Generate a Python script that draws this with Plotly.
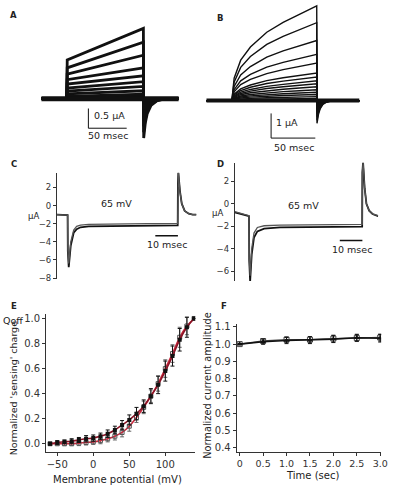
import plotly.graph_objects as go

W, H = 396, 500
FONT = "DejaVu Sans, Arial, sans-serif"
INK = "#111111"

# ---------------- Panel A (raw current traces, µA vs ms) ----------------
A_start = [0.98, 0.78, 0.62, 0.48, 0.37, 0.27, 0.19, 0.12, 0.06, 0.02]
A_end = [1.78, 1.43, 1.10, 0.78, 0.58, 0.43, 0.31, 0.20, 0.11, 0.04]
A_tail = [-1.0, -0.85, -0.70, -0.56, -0.45, -0.35, -0.26, -0.18, -0.10, -0.05]
A_tail_t = [100.4, 102.5, 105, 110, 118, 130, 146]
A_tail_shape = [1.0, 0.62, 0.38, 0.17, 0.05, 0.0, 0.0]

# ---------------- Panel B ----------------
B_end = [3.84, 3.16, 2.44, 1.88, 1.52, 1.12, 0.96, 0.80, 0.68, 0.56, 0.44, 0.34, 0.25, 0.16, 0.08]
B_shape_t = [0, 2.6, 10, 21, 39.5, 58, 76.5, 96]
B_shape = [0, 0.236, 0.427, 0.566, 0.722, 0.826, 0.913, 1.0]
B_tail = [-0.92, -0.80, -0.65, -0.52, -0.42, -0.33, -0.27, -0.21, -0.16, -0.12, -0.09, -0.06, -0.04, -0.02, -0.01]
B_tail_t = [96.3, 98, 100, 103, 107, 112, 120, 145]
B_tail_shape = [1.0, 0.6, 0.35, 0.17, 0.07, 0.02, 0.0, 0.0]

# ---------------- Panel C (65 mV) ----------------
C_t = [0, 4.7, 4.8, 5.2, 6.1, 7.4, 8.7, 10.4, 14, 25, 40, 53.4, 53.5, 53.7, 54.4, 55.2, 56.5, 58.3, 60, 61.7]
C_low = [-1.0, -1.05, -5.0, -6.8, -4.4, -3.0, -2.6, -2.4, -2.3, -2.25, -2.2, -2.2, 2.5, 3.6, 1.6, 0.2, -0.6, -0.9, -1.0, -1.0]
C_high = [-1.0, -1.05, -4.8, -6.4, -4.0, -2.7, -2.3, -2.15, -2.07, -2.02, -2.0, -2.0, 2.5, 3.6, 1.5, 0.2, -0.6, -0.9, -1.0, -1.0]
C_ticks = [-8, -6, -4, -2, 0, 2]

# ---------------- Panel D (65 mV) ----------------
D_t = [0, 3, 6.3, 6.4, 6.8, 7.5, 8.5, 10, 13, 20, 35, 56.4, 56.5, 56.8, 57.5, 58.3, 59.5, 61, 63.5]
D_low = [-0.75, -0.95, -1.1, -5.0, -6.9, -4.5, -3.0, -2.45, -2.2, -2.1, -2.05, -2.02, 2.8, 3.7, 1.4, 0.0, -0.6, -0.9, -1.1]
D_high = [-0.7, -0.9, -1.05, -4.8, -6.4, -4.0, -2.6, -2.1, -1.95, -1.9, -1.85, -1.82, 2.8, 3.7, 1.4, 0.0, -0.6, -0.9, -1.05]
D_ticks = [-6, -4, -2, 0, 2]

# ---------------- Panel E (Q-V) ----------------
E_v = [-60, -50, -40, -30, -20, -10, 0, 10, 20, 30, 40, 50, 60, 70, 80, 90, 100, 110, 120, 130, 140]
E_q1 = [0.0, 0.01, 0.015, 0.02, 0.03, 0.04, 0.045, 0.06, 0.08, 0.11, 0.15, 0.19, 0.24, 0.30, 0.38, 0.47, 0.58, 0.70, 0.83, 0.93, 1.0]
E_e1 = [0.01, 0.015, 0.015, 0.02, 0.02, 0.025, 0.025, 0.025, 0.03, 0.03, 0.035, 0.04, 0.05, 0.05, 0.06, 0.07, 0.08, 0.08, 0.09, 0.08, 0.0]
E_q2 = [0.0, 0.0, 0.0, 0.0, 0.005, 0.01, 0.015, 0.025, 0.04, 0.06, 0.09, 0.14, 0.21, 0.29, 0.38, 0.48, 0.60, 0.72, 0.85, 0.94, 1.0]
E_e2 = [0.01, 0.01, 0.015, 0.015, 0.02, 0.02, 0.02, 0.025, 0.025, 0.03, 0.035, 0.04, 0.04, 0.05, 0.05, 0.06, 0.07, 0.07, 0.08, 0.07, 0.0]
E_yticks = [0.0, 0.2, 0.4, 0.6, 0.8, 1.0]
E_xticks = [-50, 0, 50, 100]

# ---------------- Panel F (run-down) ----------------
F_t = [0, 0.5, 1.0, 1.5, 2.0, 2.5, 3.0]
F_a1 = [1.0, 1.014, 1.021, 1.023, 1.029, 1.037, 1.034]
F_e1 = [0.004, 0.015, 0.018, 0.02, 0.02, 0.02, 0.022]
F_a2 = [1.0, 1.018, 1.026, 1.026, 1.032, 1.035, 1.038]
F_e2 = [0.004, 0.014, 0.016, 0.018, 0.02, 0.02, 0.02]
F_yticks = [0.4, 0.5, 0.6, 0.7, 0.8, 0.9, 1.0, 1.1]
F_xticks = [0, 0.5, 1.0, 1.5, 2.0, 2.5, 3.0]
F_xlabels = ["0", "0.5", "1.0", "1.5", "2.0", "2.5", "3.0"]


def px(x):
    return x / W


def py(y):
    return 1 - y / H


fig = go.Figure()

# Panel A traces
for s, e, tl in zip(A_start, A_end, A_tail):
    t = [-33.3, 0, 0.6, 100] + A_tail_t
    i = [0, 0, s, e] + [tl * f for f in A_tail_shape]
    fig.add_trace(go.Scatter(x=t, y=i, mode="lines", line=dict(color=INK, width=2.8),
                             xaxis="x", yaxis="y", hoverinfo="skip", showlegend=False))
fig.add_trace(go.Scatter(x=[-33.3, 0, 100.4, 146.2], y=[0, 0, 0, 0], mode="lines",
                         line=dict(color=INK, width=5), xaxis="x", yaxis="y",
                         hoverinfo="skip", showlegend=False))

# Panel B traces
for e, tl in zip(B_end, B_tail):
    t = [-28.9] + B_shape_t + B_tail_t
    i = [0] + [e * f for f in B_shape] + [tl * f for f in B_tail_shape]
    fig.add_trace(go.Scatter(x=t, y=i, mode="lines", line=dict(color=INK, width=1.4),
                             xaxis="x2", yaxis="y2", hoverinfo="skip", showlegend=False))
fig.add_trace(go.Scatter(x=[-28.9, 0, 96.3, 144.4], y=[0, 0, 0, 0], mode="lines",
                         line=dict(color=INK, width=4), xaxis="x2", yaxis="y2",
                         hoverinfo="skip", showlegend=False))

# Panel C
fig.add_trace(go.Scatter(x=C_t, y=C_low, mode="lines", line=dict(color=INK, width=1.8),
                         xaxis="x3", yaxis="y3", hoverinfo="skip", showlegend=False))
fig.add_trace(go.Scatter(x=C_t, y=C_high, mode="lines", line=dict(color="#555555", width=1.3),
                         xaxis="x3", yaxis="y3", hoverinfo="skip", showlegend=False))

# Panel D
fig.add_trace(go.Scatter(x=D_t, y=D_low, mode="lines", line=dict(color=INK, width=1.8),
                         xaxis="x4", yaxis="y4", hoverinfo="skip", showlegend=False))
fig.add_trace(go.Scatter(x=D_t, y=D_high, mode="lines", line=dict(color="#555555", width=1.3),
                         xaxis="x4", yaxis="y4", hoverinfo="skip", showlegend=False))

# Panel E
fig.add_trace(go.Scatter(x=E_v, y=E_q2, mode="lines+markers", line=dict(color="#c8283c", width=1.6, shape="spline"),
                         marker=dict(symbol="square-open", size=4, color="#555555"),
                         error_y=dict(type="data", array=E_e2, color="#666666", thickness=1, width=2),
                         xaxis="x5", yaxis="y5", hoverinfo="skip", showlegend=False))
fig.add_trace(go.Scatter(x=E_v, y=E_q1, mode="lines+markers", line=dict(color="#8b1426", width=1.6, shape="spline"),
                         marker=dict(symbol="square", size=4, color=INK),
                         error_y=dict(type="data", array=E_e1, color=INK, thickness=1, width=2),
                         xaxis="x5", yaxis="y5", hoverinfo="skip", showlegend=False))

# Panel F
fig.add_trace(go.Scatter(x=F_t, y=F_a2, mode="lines+markers", line=dict(color="#444444", width=1.4),
                         marker=dict(symbol="square-open", size=5, color="#444444"),
                         error_y=dict(type="data", array=F_e2, color="#444444", thickness=1, width=2),
                         xaxis="x6", yaxis="y6", hoverinfo="skip", showlegend=False))
fig.add_trace(go.Scatter(x=F_t, y=F_a1, mode="lines+markers", line=dict(color=INK, width=1.6),
                         marker=dict(symbol="triangle-up", size=5, color=INK),
                         error_y=dict(type="data", array=F_e1, color=INK, thickness=1, width=2),
                         xaxis="x6", yaxis="y6", hoverinfo="skip", showlegend=False))

hidden = dict(visible=False, showgrid=False, zeroline=False, fixedrange=True)
tickfont_small = dict(family=FONT, size=8.5, color="#333333")
tickfont = dict(family=FONT, size=10, color="#333333")
tickfont_f = dict(family=FONT, size=9.5, color="#333333")
axline = dict(showline=True, linecolor="#333333", linewidth=1, ticks="outside", ticklen=3,
              tickcolor="#333333", showgrid=False, zeroline=False)

fig.update_layout(
    width=W, height=H, margin=dict(l=0, r=0, t=0, b=0),
    paper_bgcolor="white", plot_bgcolor="rgba(0,0,0,0)", showlegend=False,
    font=dict(family=FONT, size=9, color="#222222"),
    xaxis=dict(domain=[px(42), px(182)], range=[-33.3, 146.2], anchor="y", **hidden),
    yaxis=dict(domain=[py(145), py(20)], range=[-1.2, 1.925], anchor="x", **hidden),
    xaxis2=dict(domain=[px(210), px(366)], range=[-28.9, 144.4], anchor="y2", **hidden),
    yaxis2=dict(domain=[py(150), py(0)], range=[-2.04, 3.96], anchor="x2", **hidden),
    xaxis3=dict(domain=[px(58), px(200)], range=[0, 61.7], anchor="y3", **hidden),
    yaxis3=dict(domain=[py(280), py(172)], range=[-8.11, 3.63], anchor="x3",
                tickvals=C_ticks, tickfont=tickfont_small, **axline),
    xaxis4=dict(domain=[px(239), px(385)], range=[0, 63.5], anchor="y4", **hidden),
    yaxis4=dict(domain=[py(282), py(162)], range=[-6.88, 3.67], anchor="x4",
                tickvals=D_ticks, tickfont=tickfont_small, **axline),
    xaxis5=dict(domain=[px(47), px(198.7)], range=[-65.4, 141.5], anchor="y5",
                tickvals=E_xticks, tickfont=tickfont, **axline),
    yaxis5=dict(domain=[py(455), py(315)], range=[-0.063, 1.039], anchor="x5",
                tickvals=E_yticks, tickformat=".1f", tickfont=tickfont, **axline),
    xaxis6=dict(domain=[px(241), px(388)], range=[-0.063, 3.02], anchor="y6",
                tickvals=F_xticks, ticktext=F_xlabels, tickfont=tickfont_f, **axline),
    yaxis6=dict(domain=[py(455), py(326)], range=[0.377, 1.114], anchor="x6",
                tickvals=F_yticks, tickformat=".1f", tickfont=tickfont, **axline),
)

# Scale bars (in data units)
bar = dict(color=INK, width=1)
shapes = [
    dict(type="line", xref="x", yref="y", x0=28.2, x1=28.2, y0=-0.25, y1=-0.75, line=bar),
    dict(type="line", xref="x", yref="y", x0=28.2, x1=78.2, y0=-0.75, y1=-0.75, line=bar),
    dict(type="line", xref="x2", yref="y2", x0=44.4, x1=44.4, y0=-0.52, y1=-1.52, line=bar),
    dict(type="line", xref="x2", yref="y2", x0=44.4, x1=94.4, y0=-1.52, y1=-1.52, line=bar),
    dict(type="line", xref="x3", yref="y3", x0=43.5, x1=53.5, y0=-3.33, y1=-3.33, line=dict(color=INK, width=1.5)),
    dict(type="line", xref="x4", yref="y4", x0=46.5, x1=56.5, y0=-3.27, y1=-3.27, line=dict(color=INK, width=1.5)),
]
fig.update_layout(shapes=shapes)


def ann(text, x, y, size=9, bold=False, angle=0, xanchor="center", color="#222222"):
    fig.add_annotation(text=("<b>%s</b>" % text) if bold else text, x=px(x), y=py(y),
                       xref="paper", yref="paper", showarrow=False, xanchor=xanchor,
                       yanchor="middle", textangle=angle,
                       font=dict(family=FONT, size=size, color=color))


# panel letters
ann("A", 14, 12, size=8.5, bold=True)
ann("B", 224, 15, size=8.5, bold=True)
ann("C", 14, 163, size=8.5, bold=True)
ann("D", 224, 163, size=8.5, bold=True)
ann("E", 14, 307, size=8.5, bold=True)
ann("F", 228, 307, size=8.5, bold=True)

# scale bar labels
ann("0.5 µA", 111, 114, size=9.5)
ann("50 msec", 110, 134, size=9.5)
ann("1 µA", 292, 121, size=9.5)
ann("50 msec", 299, 147, size=9.5)
ann("10 msec", 170, 245, size=9.5)
ann("10 msec", 358, 250, size=9.5)

# C / D labels
ann("µA", 34, 216, size=8.5)
ann("65 mV", 119, 203, size=9.5)
ann("µA", 221, 213, size=8.5)
ann("65 mV", 309, 205, size=9.5)

# E / F axis titles
ann("Qoff", 13, 322, size=9.5)
ann("Normalized 'sensing' charge", 14, 391, size=9.5, angle=-90)
ann("Membrane potential (mV)", 120, 483, size=10)
ann("Normalized current amplitude", 211, 388, size=9.8, angle=-90)
ann("Time (sec)", 318, 479, size=10)

# the page's default body margin would shift the figure by 8 px; remove it
fig.write_html("out.html", config={"displayModeBar": False},
               post_script="document.body.style.margin='0';")
